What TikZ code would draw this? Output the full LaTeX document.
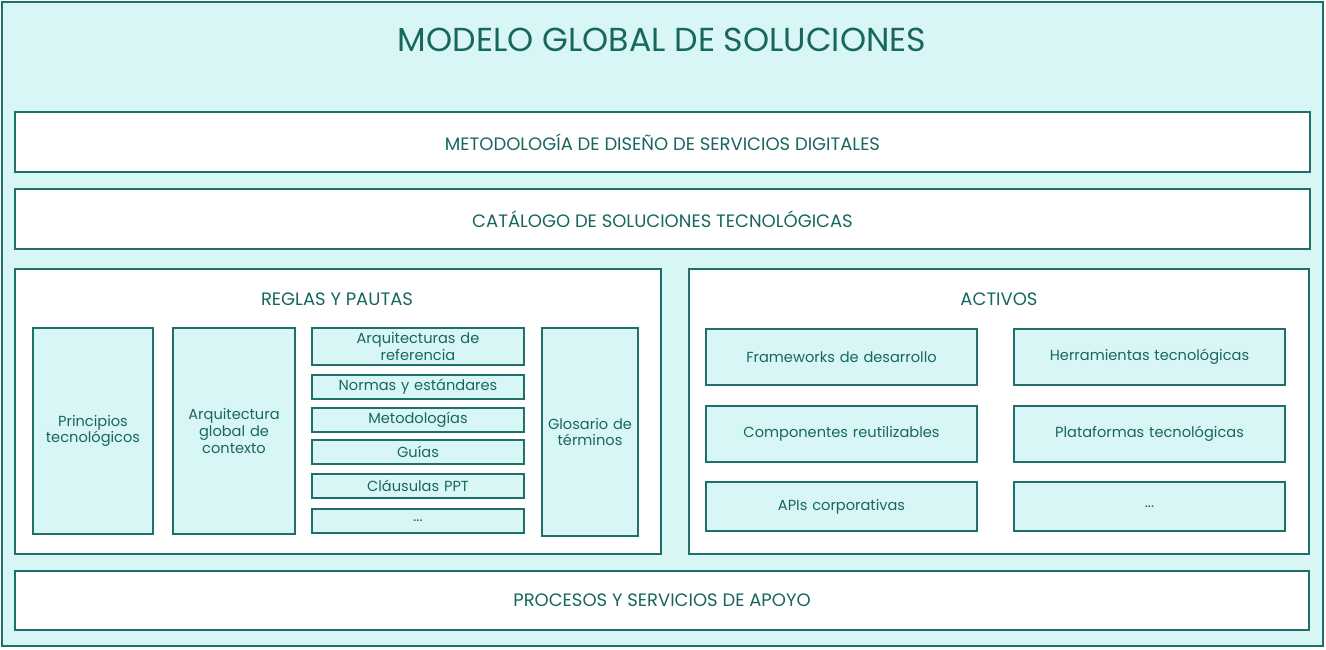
\documentclass[tikz,border=0pt]{standalone}
\usepackage{fontspec}
\setmainfont{Poppins}
\definecolor{fillc}{HTML}{D9F6F6}
\definecolor{edge}{HTML}{1F6F6A}
\definecolor{txt}{HTML}{17675F}
\newcommand\pbox[7]{\node[#6, minimum width={(#4-#2)*0.5pt}, minimum height={(#5-#3)*0.5pt}] (#1) at ({(#2+#4)/4*1pt},{-(#3+#5)/4*1pt}) {#7};}
\tikzset{
 base/.style={draw=edge, line width=0.6pt, inner sep=0pt, text=txt, align=center},
 white/.style={base, fill=white},
 cyan/.style={base, fill=fillc},
 hd/.style={font=\fontsize{9}{11}\selectfont},
 sm/.style={font=\fontsize{7.3}{8.3}\selectfont, text width=#1},
 sm/.default=60pt
}
\begin{document}
\begin{tikzpicture}[x=1pt,y=1pt]
\useasboundingbox (0,0) rectangle (663,-324.5);
\pbox{outer}{2}{2}{1323}{646}{cyan}{}
\node[text=txt, font=\fontsize{16.6}{18}\selectfont] (title) at (331,-20) {MODELO GLOBAL DE SOLUCIONES};
\pbox{met}{15}{112}{1310}{172}{white,hd}{METODOLOGÍA DE DISEÑO DE SERVICIOS DIGITALES}
\pbox{cat}{15}{189}{1310}{249}{white,hd}{CATÁLOGO DE SOLUCIONES TECNOLÓGICAS}
\pbox{reg}{15}{269}{661}{554}{white}{}
\node[text=txt,hd] (regt) at (168.5,-149.5) {REGLAS Y PAUTAS};
\pbox{act}{689}{269}{1309}{554}{white}{}
\node[text=txt,hd] (actt) at (499.5,-149.5) {ACTIVOS};
\pbox{pro}{15}{571}{1309}{630}{white,hd}{PROCESOS Y SERVICIOS DE APOYO}
\pbox{pri}{33}{328}{153}{534}{cyan,sm=58pt}{Principios\\tecnológicos}
\pbox{arg}{173}{328}{295}{534}{cyan,sm=58pt}{Arquitectura\\global de\\contexto}
\pbox{arq}{312}{328}{524}{365}{cyan,sm=104pt}{Arquitecturas de\\referencia}
\pbox{nor}{312}{375}{524}{399}{cyan,sm=104pt}{Normas y estándares}
\pbox{mtd}{312}{408}{524}{432}{cyan,sm=104pt}{Metodologías}
\pbox{gui}{312}{440}{524}{464}{cyan,sm=104pt}{Guías}
\pbox{cla}{312}{474}{524}{498}{cyan,sm=104pt}{Cláusulas PPT}
\pbox{dts}{312}{509}{524}{533}{cyan,sm=104pt}{...}
\pbox{glo}{542}{328}{638}{536}{cyan,sm=47pt}{Glosario de\\términos}
\pbox{fw}{706}{329}{977}{385}{cyan,sm=134pt}{Frameworks de desarrollo}
\pbox{her}{1014}{329}{1285}{385}{cyan,sm=134pt}{Herramientas tecnológicas}
\pbox{com}{706}{406}{977}{462}{cyan,sm=134pt}{Componentes reutilizables}
\pbox{pla}{1014}{406}{1285}{462}{cyan,sm=134pt}{Plataformas tecnológicas}
\pbox{api}{706}{482}{977}{531}{cyan,sm=134pt}{APIs corporativas}
\pbox{dta}{1014}{482}{1285}{531}{cyan,sm=134pt}{...}
\end{tikzpicture}
\end{document}
